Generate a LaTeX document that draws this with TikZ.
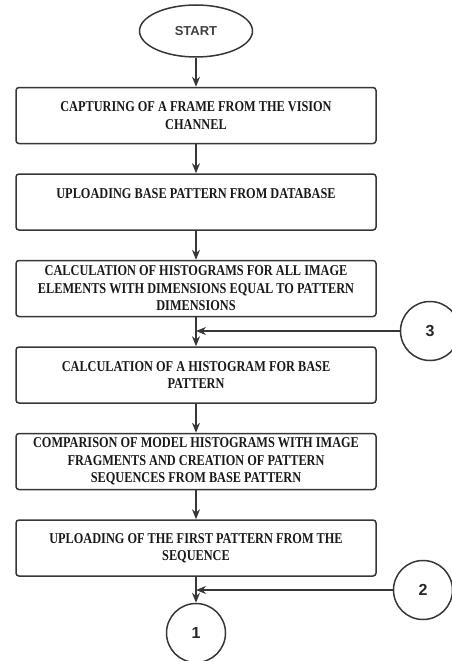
\documentclass[tikz,border=0pt]{standalone}
\usepackage{fontspec}
\setmainfont{Liberation Serif}[FakeStretch=0.82]
\setsansfont{Liberation Sans}
\usetikzlibrary{shapes.geometric, arrows.meta}
\usetikzlibrary{positioning}
\definecolor{linegray}{RGB}{55,55,55}

\begin{document}
\begin{tikzpicture}[x=1pt, y=1pt, ->, >={Stealth[length=10pt, width=8pt]}, node distance=29pt, line width=1.5pt, color=linegray,
	stepbox/.style={rectangle, rounded corners=3pt, draw=linegray, minimum width=360pt, minimum height=56pt, align=center, text=black!90, font=\fontsize{15}{17.5}\selectfont\bfseries},
	startbox/.style={ellipse, draw=linegray, minimum width=113pt, minimum height=52pt, text=black!75, font=\sffamily\bfseries\fontsize{13}{15}\selectfont},
	connector/.style={circle, draw=linegray, minimum size=59pt, inner sep=0pt, text=black!85, font=\sffamily\bfseries\fontsize{16}{18}\selectfont}]
	\useasboundingbox (0,0) rectangle (452,-661);
	\node[startbox] (start) at (196,-31)                    {START};
	\node[stepbox] (capture) [below=of start]                {CAPTURING OF A FRAME FROM THE VISION\\CHANNEL};
	\node[stepbox] (base) [below=of capture]                 {UPLOADING BASE PATTERN FROM DATABASE\\\mbox{}};
	\node[stepbox] (histall) [below=of base]                 {CALCULATION OF HISTOGRAMS FOR ALL IMAGE\\ELEMENTS WITH DIMENSIONS EQUAL TO PATTERN\\DIMENSIONS};
	\node[stepbox] (histbase) [below=of histall]             {CALCULATION OF A HISTOGRAM FOR BASE\\PATTERN};
	\node[stepbox] (compare) [below=of histbase]             {COMPARISON OF MODEL HISTOGRAMS WITH IMAGE\\FRAGMENTS AND CREATION OF PATTERN\\SEQUENCES FROM BASE PATTERN};
	\node[stepbox] (first) [below=of compare]                {UPLOADING OF THE FIRST PATTERN FROM THE\\SEQUENCE};
	\node[connector] (c1) [node distance=26pt, below=of first] {1};
	\node[connector] (c3) at (430,-331)                      {3};
	\node[connector] (c2) at (423,-590)                      {2};
	
	\path 	(start) edge    (capture)
	(capture) edge          (base)
	(base) edge             (histall)
	(histall) edge          (histbase)
	(histbase) edge         (compare)
	(compare) edge          (first)
	(first) edge            (c1)
	(c3) edge               (c3 -| histbase.north)
	(c2) edge               (c2 -| c1.north);
\end{tikzpicture}
\end{document}
